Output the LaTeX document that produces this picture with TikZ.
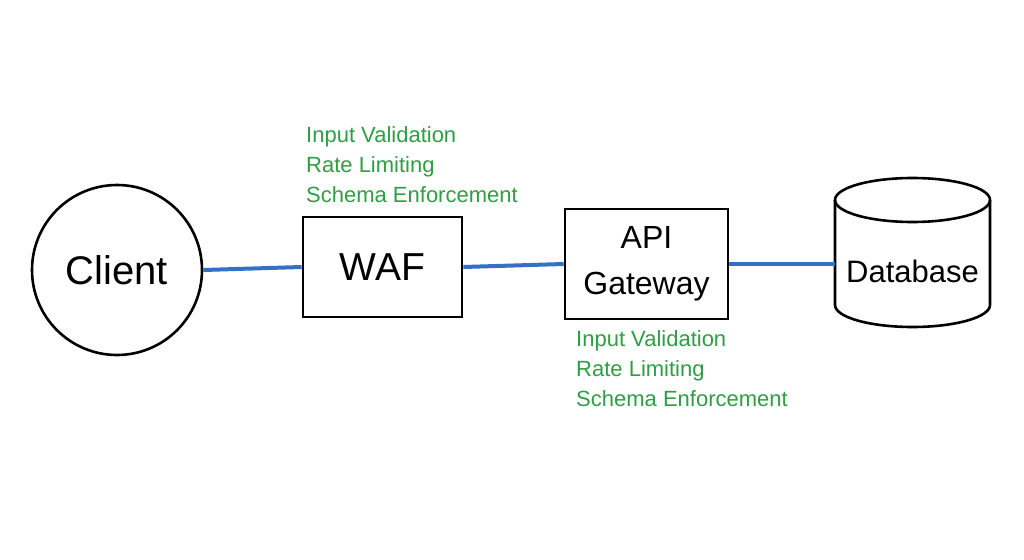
\documentclass[tikz,border=0pt]{standalone}
\usepackage{fontspec}
\setmainfont{Liberation Sans}
\definecolor{linkblue}{HTML}{3470C4}
\definecolor{notegreen}{HTML}{2F9E44}
\begin{document}
\begin{tikzpicture}[x=1pt,y=-1pt,
  shapeline/.style={draw=black,line width=2.6pt},
  link/.style={draw=linkblue,line width=4pt},
  note/.style={text=notegreen,font=\fontsize{22}{30}\selectfont,align=left,inner sep=0pt,anchor=north west},
  bigtext/.style={font=\fontsize{40}{44}\selectfont}]
\useasboundingbox (0,0) rectangle (1024,559);
\fill[white] (0,0) rectangle (1024,559);
% nodes
\node[shapeline,circle,minimum size=170pt,inner sep=0pt,bigtext] (client) at (117,270) {Client};
\node[shapeline,rectangle,minimum width=159pt,minimum height=100pt,inner sep=0pt,font=\fontsize{39}{44}\selectfont] (waf) at (382.5,267) {WAF};
\node[shapeline,rectangle,minimum width=163pt,minimum height=110pt,inner sep=0pt,align=center,font=\fontsize{32}{46}\selectfont] (api) at (646.5,264) {API\\Gateway};
\node[rectangle,minimum width=155pt,minimum height=100pt,inner sep=0pt,font=\fontsize{31}{36}\selectfont] (db) at (912.5,271) {Database};
% cylinder outline
\draw[shapeline] (912.5,200) ellipse [x radius=77.5pt, y radius=22pt];
\draw[shapeline] (835,200) -- (835,305) arc[start angle=180,end angle=360,x radius=77.5pt,y radius=22pt] -- (990,200);
% notes
\node[note] (wafnote) at (306,126) {Input Validation\\Rate Limiting\\Schema Enforcement};
\node[note] (apinote) at (576,330) {Input Validation\\Rate Limiting\\Schema Enforcement};
% connectors
\draw[link] (client.east) -- (waf.west);
\draw[link] (waf.east) -- (api.west);
\draw[link] (api.east) -- (api.east -| db.west);
\end{tikzpicture}
\end{document}
